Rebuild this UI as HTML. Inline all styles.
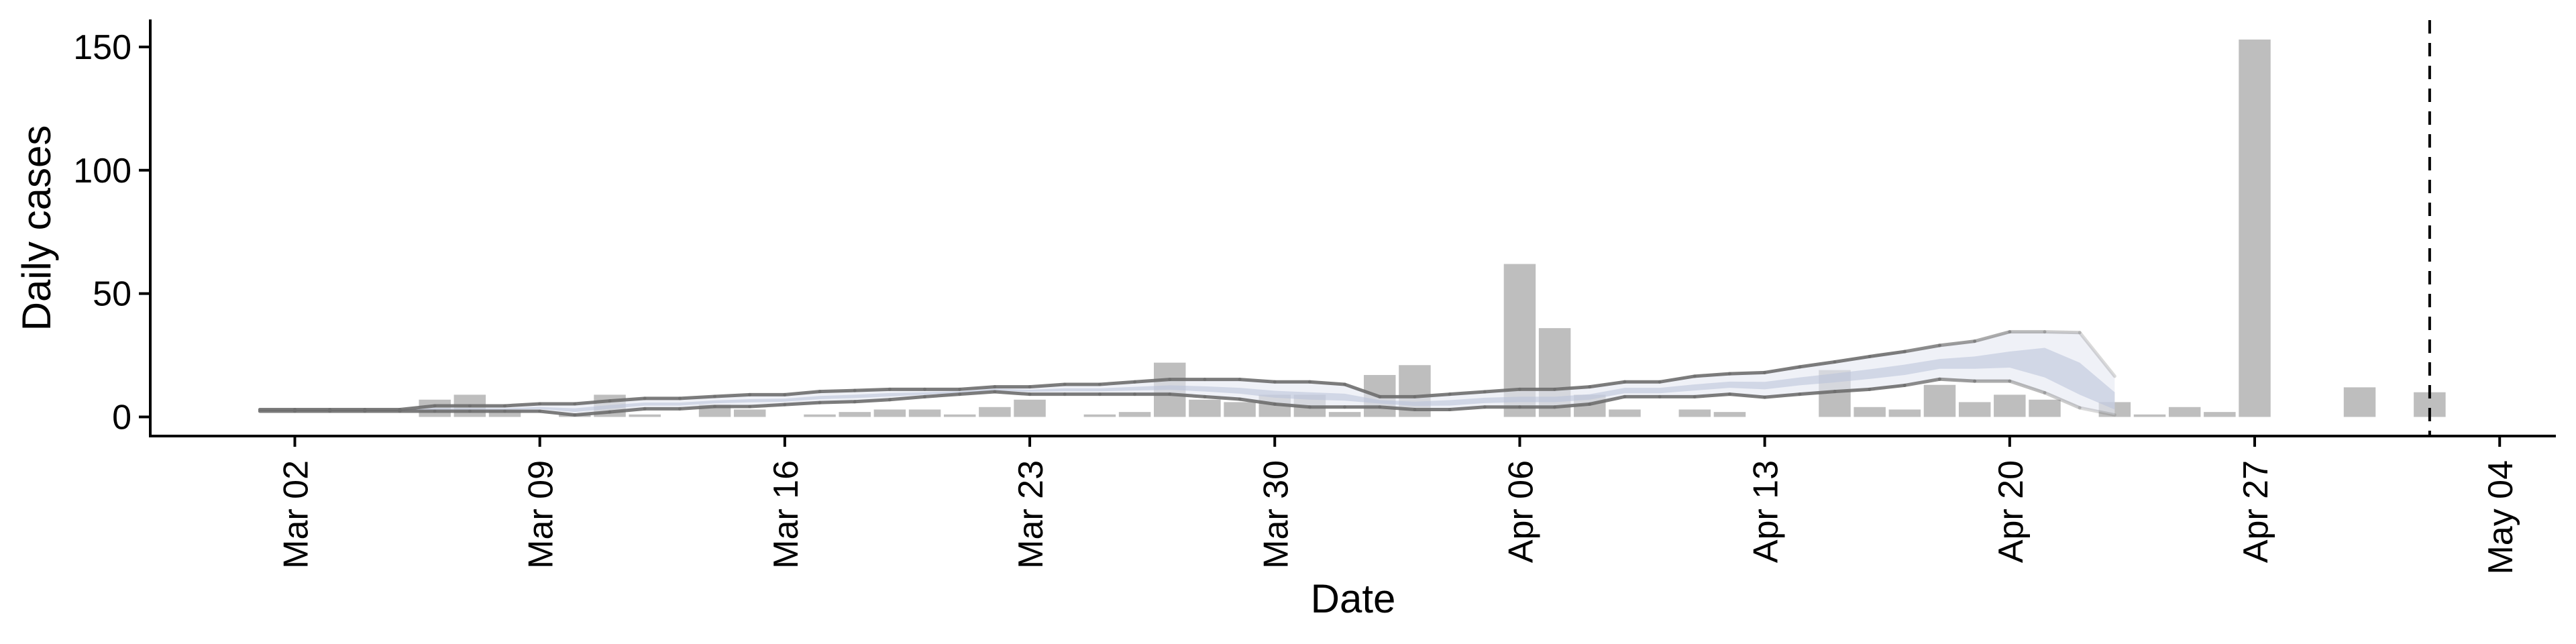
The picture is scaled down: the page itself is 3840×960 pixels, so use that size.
<!DOCTYPE html>
<html><head><meta charset="utf-8"><style>
html,body{margin:0;padding:0;background:#fff;}
svg{display:block;font-family:"Liberation Sans",sans-serif;}
</style></head><body>
<svg id="chart" width="3840" height="960" viewBox="0 0 3840 960" xmlns="http://www.w3.org/2000/svg"></svg>
<script>
// Data (day 0 = Mar 02)
const barDays   = [4,5,6,8,9,10,12,13,15,16,17,18,19,20,21,23,24,25,26,27,28,29,30,31,32,35,36,37,38,40,41,44,45,46,47,48,49,50,52,53,54,55,56,59,61];
const barValues = [7,9,3,1,9,1,5,3,1,2,3,3,1,4,7,1,2,22,7,6,9,9,2,17,21,62,36,9,3,3,2,19,4,3,13,6,9,7,6,1,4,2,153,12,10];
const bandStart = -1;
const upperVals = [3,3,3,3,3,4.5,4.5,4.5,5.3,5.3,6.5,7.5,7.5,8.3,9,9,10.3,10.7,11.2,11.2,11.2,12.2,12.2,13.2,13.2,14.2,15.2,15.2,15.2,14.2,14.2,13.2,8.2,8.2,9.2,10.2,11.2,11.2,12.2,14.2,14.2,16.5,17.5,18,20.3,22.3,24.5,26.5,29,30.7,34.5,34.5,34.2,16.5];
const lowerVals = [2.3,2.3,2.3,2.3,2.3,2.3,2.3,2.3,2.3,0.8,2,3.3,3.3,4.2,4.2,5,5.8,6.2,7,8.2,9.2,10.2,9.2,9.2,9.2,9.2,9.2,8.2,7.2,5.2,4,4,4,3,3,4,4,4,5.2,8.2,8.2,8.2,9.2,8,9.2,10.3,11.2,12.8,15.3,14.5,14.5,9.8,3.7,0.8];
const innerHi   = [2.8,2.8,2.8,2.8,2.8,3.5,3.5,3.5,4,3.5,4.8,5.8,5.8,6.7,7.2,7.4,8.5,9,9.7,10,10.4,11.4,11,11.6,11.6,12.2,12.8,12.4,11.8,10.6,10,9.4,6.8,6.2,6.8,7.8,8.2,8.2,9.2,11.8,11.8,13.2,14.3,14.2,16,17.6,19.3,21.2,23.5,24.5,26.5,28,22,10];
const innerLo   = [2.5,2.5,2.5,2.5,2.5,3,3,3,3.2,2,3.3,4.6,4.6,5.5,5.9,6.2,7.2,7.6,8.3,9,9.8,10.8,10.2,10.4,10.4,10.7,11,10.3,9.4,7.8,7,6.6,5.4,4.5,4.6,5.6,6,6,7,9.6,9.6,10.7,11.8,11.2,12.8,14,15.4,17,19.5,19.5,20,16,9,3];
const xTickDays = [0,7,14,21,28,35,42,49,56,63];
const xTickLabels = ["Mar 02","Mar 09","Mar 16","Mar 23","Mar 30","Apr 06","Apr 13","Apr 20","Apr 27","May 04"];
const yTicks = [0,50,100,150];
const cutoffDay = 61;

const X = d => 439.5 + 52.17*d;
const Y = v => 621.5 - 3.677*v;
const NS = "http://www.w3.org/2000/svg";
const svg = document.getElementById('chart');
function mk(tag, attrs, parent){ const e=document.createElementNS(NS,tag); for(const k in attrs) e.setAttribute(k,attrs[k]); (parent||svg).appendChild(e); return e; }

// bars
const gBars = mk('g',{});


barDays.forEach((d,i)=>{
  const w=47.5, y0=Y(0), y1=Y(barValues[i]);
  const r=mk('rect',{x:X(d)-w/2,y:y1,width:w,height:Math.max(y0-y1,3),fill:'#bebebe'},gBars);
  
  
});

// bands
function bandPath(hi,lo){
  let p='';
  hi.forEach((v,i)=>{p+=(i?'L':'M')+X(bandStart+i)+','+Y(v);});
  for(let i=lo.length-1;i>=0;i--) p+='L'+X(bandStart+i)+','+Y(lo[i]);
  return p+'Z';
}
const outer=mk('path',{d:bandPath(upperVals,lowerVals),fill:'#e4e7f1',opacity:0.6});


const inner=mk('path',{d:bandPath(innerHi,innerLo),fill:'#b8c1d9',opacity:0.55});



// lines (fade toward the end)
function drawLine(vals,name){
  const g=mk('g',{});
  
  
  for(let i=0;i<vals.length-1;i++){
    const d=bandStart+i;
    let op=0.9; if(d>=46) op=Math.max(0.25,0.9-(d-45)*0.11);
    const l=mk('line',{x1:X(d),y1:Y(vals[i]),x2:X(d+1),y2:Y(vals[i+1]),stroke:'#6e6e6e','stroke-width':5,'stroke-linecap':'round',opacity:op},g);
    
    
  }
}
drawLine(upperVals,'upper-bound-line');
drawLine(lowerVals,'lower-bound-line');

// cutoff
const cut=mk('line',{x1:X(cutoffDay),y1:30,x2:X(cutoffDay),y2:650,stroke:'#000','stroke-width':4,'stroke-dasharray':'20,14'});



// axes
const ax=mk('path',{d:'M224,29 L224,650 L3810,650',fill:'none',stroke:'#000','stroke-width':4});


yTicks.forEach(v=>{
  const t=mk('line',{x1:207,y1:Y(v),x2:224,y2:Y(v),stroke:'#000','stroke-width':4});
  
  
  const tx=mk('text',{x:196,y:Y(v)+18,'text-anchor':'end','font-size':52,fill:'#000'});
  tx.textContent=v;
  
  
});
xTickDays.forEach((d,i)=>{
  const t=mk('line',{x1:X(d),y1:650,x2:X(d),y2:666,stroke:'#000','stroke-width':4});
  
  
  const tx=mk('text',{x:0,y:0,'text-anchor':'end','font-size':52,fill:'#000',transform:`translate(${X(d)+19},686) rotate(-90)`});
  tx.textContent=xTickLabels[i];
  
  
});
const yt=mk('text',{x:0,y:0,'text-anchor':'middle','font-size':60,fill:'#000',transform:'translate(75,340) rotate(-90)'});
yt.textContent='Daily cases';


const xt=mk('text',{x:2017,y:913,'text-anchor':'middle','font-size':60,fill:'#000'});
xt.textContent='Date';


</script>
</body></html>
